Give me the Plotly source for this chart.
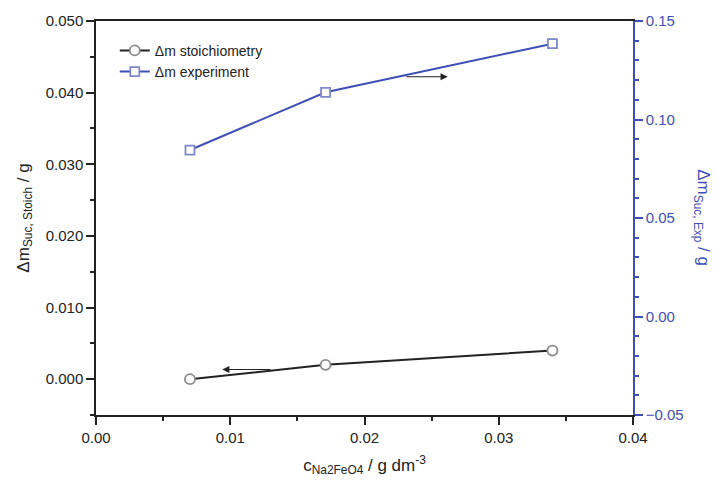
import plotly.graph_objects as go

# Concentration of Na2FeO4 (g dm^-3)
conc = [0.007, 0.0171, 0.034]
# Mass change from stoichiometry (g) - left axis
dm_stoich = [0.000, 0.002, 0.004]
# Mass change from experiment (g) - right axis
dm_exp = [0.0845, 0.1138, 0.1385]

BLUE = "#3f4fb5"
BLACK = "#222222"
FONT = "Liberation Sans, Arial, sans-serif"

fig = go.Figure()

fig.add_trace(go.Scatter(
    x=conc, y=dm_stoich, mode="lines+markers", name="Δm stoichiometry",
    line=dict(color=BLACK, width=2),
    marker=dict(symbol="circle", size=10, color="white",
                line=dict(color="#8a8a8a", width=1.8)),
    yaxis="y",
))
fig.add_trace(go.Scatter(
    x=conc, y=dm_exp, mode="lines+markers", name="Δm experiment",
    line=dict(color=BLUE, width=2),
    marker=dict(symbol="square", size=9, color="white",
                line=dict(color="#7f86cc", width=1.8)),
    yaxis="y2",
))

# Arrows pointing each curve to its axis
fig.add_annotation(x=0.0262, y=0.1217, ax=0.0230, ay=0.1217,
                   xref="x", yref="y2", axref="x", ayref="y2",
                   showarrow=True, arrowhead=2, arrowsize=1.2, arrowwidth=1.2,
                   arrowcolor=BLACK, text="")
fig.add_annotation(x=0.0094, y=0.00135, ax=0.0131, ay=0.00135,
                   xref="x", yref="y", axref="x", ayref="y",
                   showarrow=True, arrowhead=2, arrowsize=1.2, arrowwidth=1.2,
                   arrowcolor=BLACK, text="")

# Right axis title, reading top to bottom
fig.add_annotation(text="Δm<sub>Suc, Exp</sub> / g", textangle=90,
                   xref="paper", yref="paper", x=1.128, y=0.5,
                   xanchor="center", yanchor="middle", showarrow=False,
                   font=dict(size=17, color=BLUE, family=FONT))

fig.update_layout(
    width=715, height=488,
    margin=dict(l=96, r=82, t=15, b=73),
    paper_bgcolor="white", plot_bgcolor="white",
    font=dict(family=FONT, size=15, color=BLACK),
    showlegend=True,
    legend=dict(x=0.035, y=0.965, xanchor="left", yanchor="top",
                bgcolor="rgba(0,0,0,0)", font=dict(size=14, color=BLACK),
                tracegroupgap=0, itemwidth=30),
    xaxis=dict(
        range=[0, 0.04], tick0=0, dtick=0.01, tickformat=".2f",
        showgrid=False, zeroline=False,
        showline=True, linecolor=BLACK, linewidth=1.5, mirror=True,
        ticks="outside", ticklen=8, tickwidth=1.5, tickcolor=BLACK,
        minor=dict(dtick=0.005, ticks="outside", ticklen=4, tickwidth=1.5, tickcolor=BLACK),
        title=dict(text="c<sub>Na2FeO4</sub> / g dm<sup>-3</sup>",
                   font=dict(size=17), standoff=14),
    ),
    yaxis=dict(
        range=[-0.005, 0.05], tick0=0, dtick=0.01, tickformat=".3f",
        showgrid=False, zeroline=False,
        showline=True, linecolor=BLACK, linewidth=1.5,
        ticks="outside", ticklen=8, tickwidth=1.5, tickcolor=BLACK,
        minor=dict(dtick=0.005, ticks="outside", ticklen=4, tickwidth=1.5, tickcolor=BLACK),
        title=dict(text="Δm<sub>Suc, Stoich</sub> / g", font=dict(size=17), standoff=12),
    ),
    yaxis2=dict(
        range=[-0.05, 0.15], tick0=0, dtick=0.05, tickformat=".2f",
        overlaying="y", side="right",
        showgrid=False, zeroline=False,
        showline=True, linecolor=BLUE, linewidth=1.5,
        ticks="outside", ticklen=8, tickwidth=1.5, tickcolor=BLUE,
        tickfont=dict(color=BLUE),
        minor=dict(dtick=0.01, ticks="outside", ticklen=4, tickwidth=1.5, tickcolor=BLUE),
    ),
)

fig.write_html("out.html")
